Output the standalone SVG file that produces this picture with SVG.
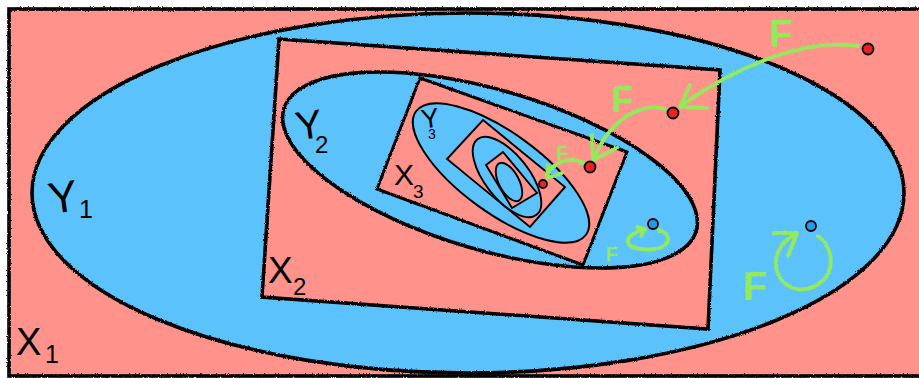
<svg xmlns="http://www.w3.org/2000/svg" width="919" height="378" viewBox="0 0 919 378">
<defs>
<filter id="rough" filterUnits="userSpaceOnUse" x="-20" y="-20" width="960" height="420">
<feTurbulence type="fractalNoise" baseFrequency="1.4" numOctaves="2" seed="3" result="n"/>
<feDisplacementMap in="SourceGraphic" in2="n" scale="2.6" xChannelSelector="R" yChannelSelector="G"/>
</filter>
<filter id="roughg" filterUnits="userSpaceOnUse" x="-20" y="-20" width="960" height="420">
<feTurbulence type="fractalNoise" baseFrequency="0.9" numOctaves="2" seed="7" result="n"/>
<feDisplacementMap in="SourceGraphic" in2="n" scale="2.6" xChannelSelector="R" yChannelSelector="G"/>
</filter>
</defs>
<style>
.x{fill:#FF928B;stroke:#000;stroke-linejoin:miter}
.y{fill:#5BC2FB;stroke:#000}
.thick{stroke-width:3.6}
.mid{stroke-width:3}
.thin{stroke-width:1.9}
.lab{font-family:"Liberation Sans",Arial,sans-serif;fill:#000}
.g{fill:none;stroke:#93EB5C;stroke-width:3.8;stroke-linecap:round;stroke-linejoin:round}
.gt{font-family:"Liberation Sans",Arial,sans-serif;font-weight:bold;fill:#93EB5C}
.rd{fill:#E8241E;stroke:#000;stroke-width:1.8}
.bd{fill:#1E9BEA;stroke:#000;stroke-width:1.8}
</style>
<rect width="919" height="378" fill="#fff"/>
<g id="X1">
<rect class="x thick" x="9" y="9" width="920" height="367" filter="url(#rough)"/>
<text class="lab" x="16" y="355" font-size="38">X</text>
<text class="lab" x="45" y="363" font-size="25">1</text>
</g>
<g id="Y1">
<ellipse class="y thick" cx="468" cy="193" rx="436" ry="180" filter="url(#rough)"/>
<text class="lab" x="48" y="212" font-size="44" transform="rotate(-8 64 195)">Y</text>
<text class="lab" x="79" y="218" font-size="25">1</text>
</g>
<g id="X2">
<polygon class="x thick" points="279,39 720,70 708,329 262,297" filter="url(#rough)"/>
<text class="lab" x="268" y="283" font-size="37">X</text>
<text class="lab" x="293" y="295" font-size="24">2</text>
</g>
<g id="Y2">
<g filter="url(#rough)">
<ellipse class="y thick" cx="0" cy="0" rx="215" ry="80" transform="translate(490 170) rotate(16.5)"/>
</g>
<text class="lab" x="295" y="138" font-size="40" transform="rotate(-8 312 122)">Y</text>
<text class="lab" x="315" y="153" font-size="24">2</text>
</g>
<g id="X3">
<polygon class="x mid" points="420,78 627,152 583,265 377,189" filter="url(#rough)"/>
<text class="lab" x="394" y="185" font-size="30">X</text>
<text class="lab" x="413" y="198" font-size="19">3</text>
</g>
<g id="Y3">
<ellipse class="y thin" cx="0" cy="0" rx="105" ry="40" transform="translate(501 173) rotate(36)"/>
<text class="lab" x="421" y="127" font-size="27" transform="rotate(-8 434 117)">Y</text>
<text class="lab" x="428" y="139" font-size="14">3</text>
</g>
<g id="X4">
<polygon class="x thin" points="483,120 565,187 530,227 447,159"/>
</g>
<g id="Y4">
<ellipse class="y thin" cx="0" cy="0" rx="48" ry="22" transform="translate(507 177) rotate(52)"/>
</g>
<g id="X5">
<polygon class="x thin" points="486,165 503,152 537,193 512,208"/>
</g>
<g id="Y5">
<ellipse class="y thin" cx="0" cy="0" rx="21" ry="10" transform="translate(509 182) rotate(62)"/>
</g>
<g id="connectors" filter="url(#roughg)">
<path class="g" d="M858,46 C805,38 740,65 683,104"/>
<polyline class="g" points="690,85 680,107 707,108"/>
<path class="g" d="M665,109 C640,102 610,120 594,158"/>
<polyline class="g" points="592,135 593,160 617,148"/>
<path class="g" d="M584,163 C568,156 552,162 547,176" stroke-width="2.8"/>
<polyline class="g" points="548,165 547,178 562,173" stroke-width="2.8"/>
<path class="g" d="M659,230 C672,234 672,246 655,249 C640,251 626,247 628,240 C629,235 636,232 644,229" stroke-width="3.2"/>
<polyline class="g" points="637,227 645,229 641,236" stroke-width="3.2"/>
<path class="g" d="M818,236 C835,248 836,275 815,286 C795,296 775,282 776,262 C776,250 785,240 796,233"/>
<polyline class="g" points="774,233 797,233 788,256"/>
<text class="gt" x="769" y="47" font-size="38">F</text>
<text class="gt" x="611" y="112" font-size="36">F</text>
<text class="gt" x="556" y="160" font-size="20">F</text>
<text class="gt" x="606" y="261" font-size="20">F</text>
<text class="gt" x="743" y="300" font-size="40">F</text>
</g>
<g id="points">
<circle class="rd" cx="868" cy="49" r="5.5"/>
<circle class="rd" cx="673" cy="113" r="5.5"/>
<circle class="rd" cx="590" cy="167" r="5.5"/>
<circle class="rd" cx="543" cy="184" r="4"/>
<circle class="bd" cx="653" cy="224" r="5"/>
<circle class="bd" cx="811" cy="226" r="5"/>
</g>
</svg>
